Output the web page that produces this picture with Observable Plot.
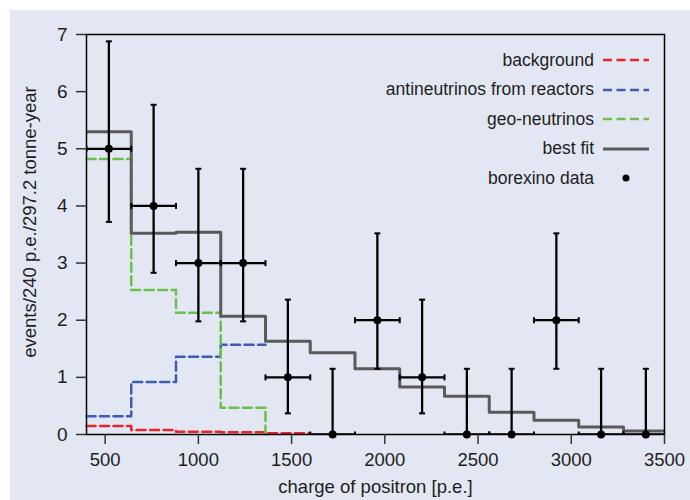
<!DOCTYPE html>
<html>
<head>
<meta charset="utf-8">
<script src="https://cdn.jsdelivr.net/npm/d3@7"></script>
<script src="https://cdn.jsdelivr.net/npm/@observablehq/plot@0.6"></script>
<style>
  body { margin: 0; background: white; }
  #wrap { position: relative; width: 690px; height: 500px; background: white; overflow: hidden; font-family: "Liberation Sans", Arial, sans-serif; color: #1e1e1e; }
  #bg { position: absolute; left: 10px; top: 10px; right: 0; bottom: 0; background: #e3e7f3; }
  #chart { position: absolute; left: 0; top: 0; }
  #ylabel { position: absolute; left: 30px; top: 222px; transform: translate(-50%, -50%) rotate(-90deg); white-space: nowrap; font-size: 18.5px; }
  .leg { position: absolute; right: 41px; height: 24px; display: flex; align-items: center; gap: 9px; font-size: 17.5px; white-space: nowrap; }
</style>
</head>
<body>
<div id="wrap">
  <div id="bg"></div>
  <div id="chart"></div>
  <div id="ylabel">events/240 p.e./297.2 tonne-year</div>
</div>
<script>
// bins of 240 p.e.
const binStarts = [400, 640, 880, 1120, 1360, 1600, 1840, 2080, 2320, 2560, 2800, 3040, 3280];
const binWidth = 240;
// best fit (all bins)
const bestFit = [5.30, 3.52, 3.54, 2.07, 1.63, 1.43, 1.15, 0.83, 0.67, 0.39, 0.25, 0.13, 0.06];
// components (first bins only)
const geoNeutrinos = [4.82, 2.53, 2.13, 0.47];
const reactorNu = [0.32, 0.92, 1.36, 1.57];
const backgroundVals = [0.15, 0.08, 0.05, 0.04, 0.02];
// borexino data with error bars
const dataCounts = [5, 4, 3, 3, 1, 0, 2, 1, 0, 0, 2, 0, 0];
const errLow  = [3.72, 2.83, 1.98, 1.98, 0.37, 0, 1.15, 0.37, 0, 0, 1.15, 0, 0];
const errHigh = [6.88, 5.77, 4.65, 4.65, 2.36, 1.15, 3.52, 2.36, 1.15, 1.15, 3.52, 1.15, 1.15];
const xTicks = [500, 1000, 1500, 2000, 2500, 3000, 3500];
const yTicks = [0, 1, 2, 3, 4, 5, 6, 7];

const legendLabels = ["background", "antineutrinos from reactors", "geo-neutrinos", "best fit", "borexino data"];
const colBg = "#e8242b", colReac = "#3d5db5", colGeo = "#6cc049", colFit = "#5a5a5a";
const legendColors = [colBg, colReac, colGeo, colFit, "#000"];
const legendKinds = ["dash", "dash", "dash", "solid", "dot"];

function steps(values, tailValue) {
  const pts = values.map((v, i) => ({x: binStarts[i], y: v}));
  const end = binStarts[values.length - 1] + binWidth;
  pts.push({x: end, y: tailValue === undefined ? values[values.length - 1] : tailValue});
  return pts;
}

const points = dataCounts.map((v, i) => ({
  s: binStarts[i], e: binStarts[i] + binWidth, c: binStarts[i] + binWidth / 2,
  v, lo: errLow[i], hi: errHigh[i]
}));

const hcap = {draw(ctx, size) { const r = Math.sqrt(size / Math.PI); ctx.moveTo(-r, 0); ctx.lineTo(r, 0); }};
const vcap = {draw(ctx, size) { const r = Math.sqrt(size / Math.PI); ctx.moveTo(0, -r); ctx.lineTo(0, r); }};

const dash = "9,4.5";
const chart = Plot.plot({
  width: 690, height: 500,
  marginLeft: 86, marginRight: 26, marginTop: 34, marginBottom: 66,
  style: {background: "transparent", fontFamily: "'Liberation Sans', Arial, sans-serif", color: "#1e1e1e"},
  x: {domain: [400, 3500]},
  y: {domain: [0, 7]},
  marks: [
    Plot.line(steps(backgroundVals), {x: "x", y: "y", curve: "step-after", stroke: colBg, strokeWidth: 2.5, strokeDasharray: dash}),
    Plot.line(steps(reactorNu), {x: "x", y: "y", curve: "step-after", stroke: colReac, strokeWidth: 2.5, strokeDasharray: dash}),
    Plot.line(steps(geoNeutrinos, 0), {x: "x", y: "y", curve: "step-after", stroke: colGeo, strokeWidth: 2.5, strokeDasharray: dash}),
    Plot.line(steps(bestFit), {x: "x", y: "y", curve: "step-after", stroke: colFit, strokeWidth: 3, clip: true}),
    Plot.ruleX(points, {x: "c", y1: "lo", y2: "hi", stroke: "#000", strokeWidth: 2.3}),
    Plot.ruleY(points, {y: "v", x1: "s", x2: "e", stroke: "#000", strokeWidth: 2.3, clip: true}),
    Plot.dot(points, {x: "c", y: "hi", symbol: hcap, r: 3, stroke: "#000", strokeWidth: 2}),
    Plot.dot(points.filter(d => d.lo > 0), {x: "c", y: "lo", symbol: hcap, r: 3, stroke: "#000", strokeWidth: 2}),
    Plot.dot(points, {x: "s", y: "v", symbol: vcap, r: 3, stroke: "#000", strokeWidth: 2, clip: true}),
    Plot.dot(points, {x: "e", y: "v", symbol: vcap, r: 3, stroke: "#000", strokeWidth: 2, clip: true}),
    Plot.dot(points, {x: "c", y: "v", r: 4, fill: "#000"}),
    Plot.frame({stroke: "#000", strokeWidth: 1.5}),
    Plot.axisY({ticks: yTicks, tickFormat: d => String(d), tickSize: 10, tickPadding: 9, fontSize: 19, label: null, stroke: "#333", strokeWidth: 1.5}),
    Plot.axisX({ticks: xTicks, tickFormat: d => String(d), tickSize: 10, tickPadding: 8, fontSize: 18.5, label: "charge of positron [p.e.]",
      labelAnchor: "center", labelArrow: "none", labelOffset: 58, stroke: "#333", strokeWidth: 1.5})
  ]
});
document.getElementById("chart").appendChild(chart);

// legend
const wrap = document.getElementById("wrap");
const rowY0 = 60, rowStep = 29.5;
legendLabels.forEach((lab, i) => {
  const row = document.createElement("div");
  row.className = "leg";
  row.style.top = (rowY0 + i * rowStep - 12) + "px";
  const t = document.createElement("span");
  t.textContent = lab;
  row.appendChild(t);
  const ns = "http://www.w3.org/2000/svg";
  const s = document.createElementNS(ns, "svg");
  s.setAttribute("width", 46); s.setAttribute("height", 24);
  if (legendKinds[i] === "dot") {
    const c = document.createElementNS(ns, "circle");
    c.setAttribute("cx", 23); c.setAttribute("cy", 12); c.setAttribute("r", 3.5); c.setAttribute("fill", legendColors[i]);
    s.appendChild(c);
  } else {
    const l = document.createElementNS(ns, "line");
    l.setAttribute("x1", 0); l.setAttribute("x2", 46); l.setAttribute("y1", 12); l.setAttribute("y2", 12);
    l.setAttribute("stroke", legendColors[i]);
    l.setAttribute("stroke-width", legendKinds[i] === "solid" ? 3 : 2.5);
    if (legendKinds[i] === "dash") l.setAttribute("stroke-dasharray", dash);
    s.appendChild(l);
  }
  row.appendChild(s);
  wrap.appendChild(row);
});
</script>
</body>
</html>
